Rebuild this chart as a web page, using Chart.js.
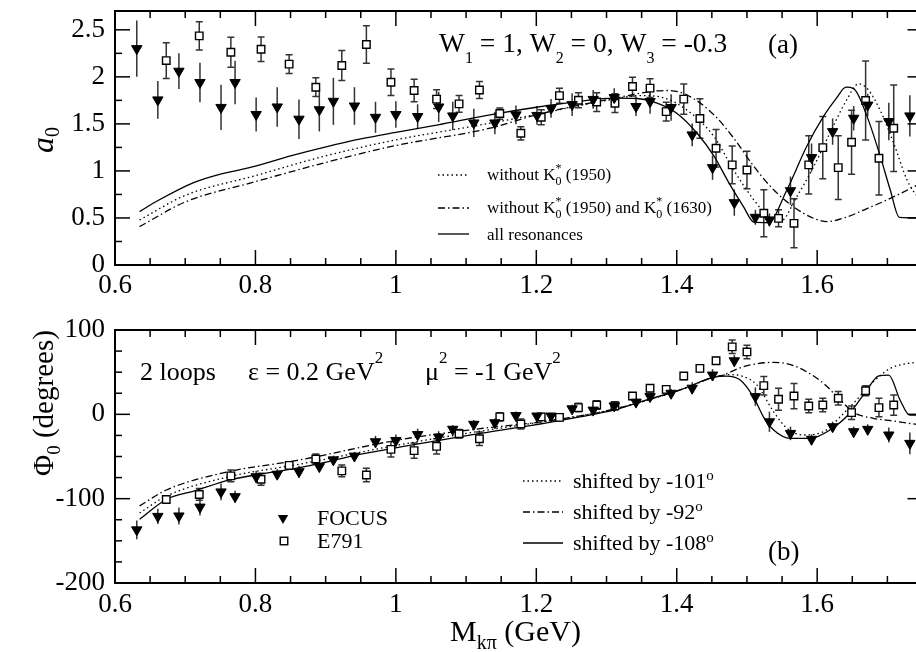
<!DOCTYPE html>
<html><head><meta charset="utf-8">
<script src="https://cdn.jsdelivr.net/npm/chart.js@4.4.1/dist/chart.umd.min.js"></script>
<style>
html,body{margin:0;padding:0;overflow:hidden;background:#fff;width:916px;height:652px}
#wrap{position:relative;width:916px;height:652px;overflow:hidden;background:#fff}
canvas{position:absolute;left:0}
</style></head>
<body><div id="wrap">
<canvas id="cTop" width="940" height="305" style="top:0;width:940px;height:305px"></canvas>
<canvas id="cBot" width="940" height="347" style="top:305px;width:940px;height:347px"></canvas>
</div>
<script>
// ---------- tick labels ----------
const X_TICKS = [0.6, 0.8, 1.0, 1.2, 1.4, 1.6];
const A0_TICKS = [0, 0.5, 1, 1.5, 2, 2.5];
const PHI_TICKS = [-200, -100, 0, 100];

// ---------- data: bin centres ----------
const FOCUS_X = [0.631,0.661,0.691,0.721,0.751,0.771,0.801,0.831,0.862,0.891,
                 0.911,0.941,0.971,1.000,1.031,1.061,1.081,1.111,1.141,1.171,
                 1.201,1.221,1.251,1.281,1.311,1.342,1.362,1.392,1.422,1.451,
                 1.482,1.512,1.532,1.562,1.592,1.622,1.652,1.672,1.702,1.732];
const E791_X = [0.673,0.720,0.765,0.808,0.848,0.886,0.923,0.958,0.993,1.026,
                1.058,1.090,1.119,1.148,1.178,1.207,1.233,1.260,1.286,1.312,
                1.337,1.362,1.385,1.410,1.433,1.456,1.479,1.500,1.524,1.545,
                1.567,1.588,1.608,1.630,1.649,1.669,1.688,1.709];

// ---------- panel (a): a0 ----------
const A0_FOCUS = [2.30,1.755,2.06,1.94,1.675,1.94,1.60,1.68,1.55,1.65,
                  1.74,1.69,1.57,1.60,1.578,1.68,1.585,1.51,1.51,1.596,
                  1.59,1.665,1.705,1.76,1.78,1.685,1.737,1.674,1.383,1.035,
                  0.663,0.507,0.479,0.79,1.142,1.418,1.56,1.70,1.525,1.585];
const A0_FOCUS_ERR = [0.30,0.20,0.19,0.21,0.24,0.23,0.18,0.21,0.21,0.23,
                      0.25,0.20,0.165,0.14,0.13,0.16,0.15,0.15,0.12,0.10,
                      0.10,0.10,0.12,0.10,0.10,0.10,0.13,0.14,0.12,0.13,
                      0.14,0.08,0.07,0.15,0.15,0.14,0.13,0.12,0.20,0.22];
const A0_E791 = [2.173,2.436,2.262,2.294,2.135,1.89,2.12,2.344,1.943,1.855,
                 1.763,1.713,1.86,1.61,1.40,1.571,1.80,1.752,1.732,1.72,
                 1.897,1.88,1.63,1.763,1.557,1.241,1.064,1.01,0.55,0.496,
                 0.443,1.064,1.248,1.035,1.305,1.748,1.135,1.454];
const A0_E791_ERR = [0.19,0.15,0.16,0.13,0.10,0.10,0.16,0.20,0.14,0.12,
                     0.10,0.09,0.09,0.06,0.07,0.08,0.08,0.08,0.10,0.10,
                     0.10,0.10,0.10,0.16,0.21,0.20,0.20,0.20,0.25,0.09,
                     0.26,0.31,0.33,0.34,0.34,0.42,0.39,0.46];

const A0_ALL_X = [0.635,0.66,0.712,0.75,0.8,0.85,0.902,0.95,1.0,1.06,1.134,1.2,1.262,1.31,1.343,1.372,1.4,1.429,1.453,1.476,1.495,1.51,1.53,1.557,1.585,1.609,1.628,1.641,1.652,1.671,1.69,1.704,1.717,1.75];
const A0_ALL_Y = [0.567,0.68,0.876,0.965,1.05,1.16,1.259,1.34,1.41,1.49,1.596,1.677,1.74,1.773,1.77,1.72,1.613,1.40,1.157,0.851,0.62,0.455,0.45,0.80,1.26,1.58,1.78,1.89,1.875,1.58,1.152,0.80,0.507,0.50];
const A0_NO1950_X = [0.635,0.7,0.8,0.9,1.0,1.134,1.2,1.3,1.35,1.38,1.414,1.453,1.481,1.51,1.533,1.547,1.571,1.595,1.618,1.642,1.659,1.673,1.69,1.709,1.728,1.75];
const A0_NO1950_Y = [0.479,0.74,0.95,1.16,1.33,1.507,1.60,1.75,1.80,1.78,1.65,1.365,1.01,0.69,0.50,0.46,0.727,1.046,1.40,1.755,1.926,1.86,1.64,1.294,0.904,0.65];
const A0_NO1950_1630_X = [0.635,0.7,0.8,0.9,1.0,1.134,1.2,1.3,1.386,1.414,1.453,1.481,1.51,1.538,1.566,1.595,1.614,1.642,1.671,1.699,1.732,1.75];
const A0_NO1950_1630_Y = [0.408,0.67,0.886,1.09,1.27,1.454,1.596,1.755,1.855,1.81,1.596,1.35,1.046,0.80,0.62,0.496,0.461,0.51,0.60,0.69,0.81,0.88];

// ---------- panel (b): Phi0 ----------
const PHI_FOCUS = [-137,-121,-120.5,-110,-92,-97.6,-74,-71,-68,-62,
                   -54,-49.5,-32.5,-31,-24,-27,-17.7,-11.8,-10,-1.5,
                   -2,-2,6.5,5,10,14.5,21,25,31,46.6,
                   63.5,21,-8.8,-22.6,-29.6,-14.7,-20.6,-17.8,-24.5,-34.4];
const PHI_FOCUS_ERR = [11,9,10,10,10,7,7,6,7,6,
                       5,5,7,7,7,7,5,5,5,5,
                       4,4,5,5,5,5,5,5,7,7,
                       7,11,12,8,6,6,6,6,9,13];
const PHI_E791 = [-101,-95,-73,-77,-60.5,-53,-67,-72,-41.5,-43,
                  -38,-23,-29,-3,-11.5,-3,-3.6,8,11,10,
                  21.7,31,29.6,45.4,54.5,63.5,80,74,34,17.8,
                  21.7,9.8,11,19,2,28,8,11];
const PHI_E791_ERR = [4,7,7,7,4,6,7,8,9,9,
                      9,5,8,5,6,4,4,5,5,5,
                      4,4,4,4,4,4,8,8,11,13,
                      15,8,8,8,8,6,11,12];

const PHI_S108_X = [0.635,0.673,0.7145,0.762,0.809,0.857,0.904,0.952,1.009,1.12,1.215,1.262,1.31,1.357,1.405,1.453,1.471,1.49,1.509,1.5235,1.538,1.562,1.59,1.618,1.646,1.671,1.687,1.702,1.718,1.732,1.75];
const PHI_S108_Y = [-124.5,-101,-90.5,-78,-70.7,-64,-56,-47,-38.4,-22.6,-10,-3,5,17,29,44,45.4,41,21,-3,-18.6,-28.5,-28.5,-18.6,1,29,45.4,46.6,17,-1,-1];
const PHI_S101_X = [0.635,0.673,0.762,0.857,1.009,1.12,1.215,1.31,1.405,1.453,1.475,1.494,1.514,1.538,1.557,1.581,1.609,1.633,1.656,1.68,1.704,1.75];
const PHI_S101_Y = [-117,-97,-74,-60,-35.5,-20,-8,6,29,44,47,45,35,3,-16.6,-24.5,-20.6,-2.9,17,38.6,54.4,63];
const PHI_S92_X = [0.635,0.673,0.762,0.857,1.009,1.12,1.215,1.31,1.405,1.453,1.4665,1.49,1.514,1.538,1.562,1.585,1.609,1.633,1.652,1.68,1.709,1.75];
const PHI_S92_Y = [-108.6,-89.7,-68,-55,-29.6,-17,-8,6,29,44,46.6,55,60,61.6,59,50.5,36.7,17,2.3,-4.7,-8,-13];

// ---------- helpers ----------
const SERIF = "'Liberation Serif','Times New Roman',serif";
const DOT = [1.5, 3];
const DASHDOT = [7, 3, 1.5, 3];
function pts(xs, ys){ return xs.map((x,i)=>({x:x, y:ys[i]})); }
function lineDS(label, xs, ys, dash){
  return {type:'line', label:label, data:pts(xs,ys), borderColor:'#000', borderWidth:1.3,
          borderDash:dash, pointRadius:0, fill:false, cubicInterpolationMode:'monotone', order:2};
}
function focusDS(ys, errs){
  return {type:'scatter', label:'FOCUS', data:pts(FOCUS_X,ys), errs:errs, capW:0,
          pointStyle:'triangle', pointRotation:180, pointRadius:6,
          pointBackgroundColor:'#000', pointBorderColor:'#000', pointBorderWidth:1, order:0};
}
function e791DS(ys, errs){
  return {type:'scatter', label:'E791', data:pts(E791_X,ys), errs:errs, capW:3.5,
          pointStyle:'rect', pointRadius:5.3,
          pointBackgroundColor:'#fff', pointBorderColor:'#000', pointBorderWidth:1.4, order:1};
}

const errorBars = {
  id:'errorBars',
  beforeDatasetsDraw(chart){
    const ctx = chart.ctx, ys = chart.scales.y;
    chart.data.datasets.forEach((ds,i)=>{
      if(!ds.errs) return;
      const meta = chart.getDatasetMeta(i);
      ctx.save(); ctx.strokeStyle='#333'; ctx.lineWidth=1.5;
      meta.data.forEach((el,j)=>{
        const v = ds.data[j].y, e = ds.errs[j];
        const x = el.x, y1 = ys.getPixelForValue(v+e), y2 = ys.getPixelForValue(v-e);
        ctx.beginPath(); ctx.moveTo(x,y1); ctx.lineTo(x,y2);
        if(ds.capW){
          ctx.moveTo(x-ds.capW,y1); ctx.lineTo(x+ds.capW,y1);
          ctx.moveTo(x-ds.capW,y2); ctx.lineTo(x+ds.capW,y2);
        }
        ctx.stroke();
      });
      ctx.restore();
    });
  }
};

function frameTicks(o){
  return { id:'frameTicks', afterDraw(chart){
    const ctx = chart.ctx, a = chart.chartArea, xs = chart.scales.x, ys = chart.scales.y;
    ctx.save(); ctx.strokeStyle='#000'; ctx.lineWidth=1.5;
    const seg=(x1,y1,x2,y2)=>{ctx.beginPath();ctx.moveTo(x1,y1);ctx.lineTo(x2,y2);ctx.stroke();};
    const isMaj=(v,list)=>list.some(m=>Math.abs(m-v)<1e-6);
    const nx = Math.round((o.xmax-o.xmin)/o.xminor);
    for(let k=0;k<=nx;k++){
      const v = Math.round((o.xmin + k*o.xminor)*1e6)/1e6;
      const L = isMaj(v,o.xmajor)?15:7, p = xs.getPixelForValue(v);
      seg(p,a.bottom,p,a.bottom-L); seg(p,a.top,p,a.top+L);
    }
    const ny = Math.floor((o.ymax-o.ymin)/o.yminor+1e-9);
    for(let k=0;k<=ny;k++){
      const v = Math.round((o.ymin + k*o.yminor)*1e6)/1e6;
      const maj = isMaj(v,o.ymajor), p = ys.getPixelForValue(v);
      seg(a.left,p,a.left+(maj?15:7),p);
      if(maj) seg(a.right,p,a.right-15,p);
    }
    ctx.lineWidth=2;
    ctx.strokeRect(a.left,a.top,a.right-a.left,a.bottom-a.top);
    ctx.restore();
  }};
}

function drawRich(ctx, item, offY){
  ctx.save();
  ctx.translate(item.x, item.y - offY);
  if(item.rot) ctx.rotate(item.rot);
  ctx.fillStyle='#000'; ctx.textBaseline='alphabetic'; ctx.textAlign='left';
  let cx = 0;
  for(const s of item.segs){
    ctx.font = (s.it?'italic ':'') + s.size + 'px ' + SERIF;
    ctx.fillText(s.t, cx, s.dy||0);
    if(!s.noAdv) cx += ctx.measureText(s.t).width;
  }
  ctx.restore();
}
function drawSample(ctx, x1, x2, y, dash){
  ctx.save(); ctx.strokeStyle='#000'; ctx.lineWidth=1.3; ctx.setLineDash(dash);
  ctx.beginPath(); ctx.moveTo(x1,y); ctx.lineTo(x2,y); ctx.stroke(); ctx.restore();
}

function scalesCfg(ymin, ymax, yticks, xh, ypad){
  const fmt = v => String(+Number(v).toFixed(2));
  const tk = {font:{family:SERIF,size:27}, color:'#000', maxRotation:0, autoSkip:false, callback:fmt};
  return {
    x:{type:'linear', min:0.6, max:1.75,
       afterBuildTicks:s=>{s.ticks = X_TICKS.map(v=>({value:v}));},
       afterFit:s=>{s.height = xh; s.paddingLeft = 0; s.paddingRight = 0;},
       grid:{display:false, drawTicks:false}, border:{display:false},
       ticks:Object.assign({padding:ypad}, tk)},
    y:{type:'linear', min:ymin, max:ymax,
       afterBuildTicks:s=>{s.ticks = yticks.map(v=>({value:v}));},
       afterFit:s=>{s.width = 115; s.paddingTop = 0; s.paddingBottom = 0;},
       grid:{display:false, drawTicks:false}, border:{display:false},
       ticks:Object.assign({padding:10}, tk)}
  };
}

// ---------- panel (a) ----------
const SUBK = [{t:'*', size:12, dy:-8, noAdv:true},{t:'0', size:12, dy:5}];
const textsTop = { id:'textsTop', afterDraw(chart){
  const ctx = chart.ctx;
  drawRich(ctx,{x:439,y:52,segs:[
    {t:'W',size:27.5},{t:'1',size:16,dy:11},{t:' = 1, W',size:27.5},{t:'2',size:16,dy:11},
    {t:' = 0, W',size:27.5},{t:'3',size:16,dy:11},{t:' = -0.3',size:27.5}]},0);
  drawRich(ctx,{x:768,y:53,segs:[{t:'(a)',size:27}]},0);
  drawSample(ctx,438,469,175,DOT);
  drawSample(ctx,438,469,208,DASHDOT);
  drawSample(ctx,438,469,234,[]);
  drawRich(ctx,{x:487,y:180,segs:[{t:'without K',size:17}].concat(SUBK,[{t:' (1950)',size:17}])},0);
  drawRich(ctx,{x:487,y:213,segs:[{t:'without K',size:17}].concat(SUBK,[{t:' (1950) and K',size:17}],SUBK,[{t:' (1630)',size:17}])},0);
  drawRich(ctx,{x:487,y:240,segs:[{t:'all resonances',size:17}]},0);
  drawRich(ctx,{x:53,y:153,rot:-Math.PI/2,segs:[{t:'a',size:32,it:true},{t:'0',size:20,dy:6}]},0);
}};

new Chart(document.getElementById('cTop'), {
  type:'scatter',
  data:{datasets:[
    focusDS(A0_FOCUS, A0_FOCUS_ERR),
    e791DS(A0_E791, A0_E791_ERR),
    lineDS('without K0*(1950)', A0_NO1950_X, A0_NO1950_Y, DOT),
    lineDS('without K0*(1950) and K0*(1630)', A0_NO1950_1630_X, A0_NO1950_1630_Y, DASHDOT),
    lineDS('all resonances', A0_ALL_X, A0_ALL_Y, [])
  ]},
  options:{
    responsive:false, animation:false, events:[],
    layout:{padding:{top:11, right:17.5, left:0, bottom:0}},
    plugins:{legend:{display:false}, tooltip:{enabled:false}},
    scales:scalesCfg(0, 2.7, A0_TICKS, 40, 5)
  },
  plugins:[errorBars, frameTicks({xmin:0.6,xmax:1.75,xminor:0.05,xmajor:X_TICKS,ymin:0,ymax:2.7,yminor:0.25,ymajor:A0_TICKS}), textsTop]
});

// ---------- panel (b) ----------
const OFF = 305;
const textsBot = { id:'textsBot', afterDraw(chart){
  const ctx = chart.ctx;
  drawRich(ctx,{x:140,y:380,segs:[{t:'2 loops',size:26}]},OFF);
  drawRich(ctx,{x:248,y:380,segs:[{t:'\u03B5 = 0.2 GeV',size:26},{t:'2',size:17,dy:-17}]},OFF);
  drawRich(ctx,{x:425,y:380,segs:[{t:'\u03BC',size:26},{t:'2',size:17,dy:-17},{t:' = -1 GeV',size:26},{t:'2',size:17,dy:-17}]},OFF);
  // FOCUS / E791 legend
  ctx.save();
  ctx.fillStyle='#000';
  const tx=283, ty=518-OFF, r=6;
  ctx.beginPath(); ctx.moveTo(tx-r*0.866, ty-r*0.5); ctx.lineTo(tx+r*0.866, ty-r*0.5); ctx.lineTo(tx, ty+r); ctx.closePath(); ctx.fill();
  ctx.strokeStyle='#000'; ctx.lineWidth=1.4; ctx.fillStyle='#fff';
  ctx.fillRect(284-3.75,541-OFF-3.75,7.5,7.5); ctx.strokeRect(284-3.75,541-OFF-3.75,7.5,7.5);
  ctx.restore();
  drawRich(ctx,{x:317,y:525,segs:[{t:'FOCUS',size:22}]},OFF);
  drawRich(ctx,{x:317,y:548,segs:[{t:'E791',size:22}]},OFF);
  // line legend
  drawSample(ctx,523,563,481-OFF,DOT);
  drawSample(ctx,523,563,512-OFF,DASHDOT);
  drawSample(ctx,523,563,543-OFF,[]);
  drawRich(ctx,{x:573,y:488,segs:[{t:'shifted by -101',size:22},{t:'o',size:15,dy:-8}]},OFF);
  drawRich(ctx,{x:573,y:519,segs:[{t:'shifted by -92',size:22},{t:'o',size:15,dy:-8}]},OFF);
  drawRich(ctx,{x:573,y:550,segs:[{t:'shifted by -108',size:22},{t:'o',size:15,dy:-8}]},OFF);
  drawRich(ctx,{x:768,y:560,segs:[{t:'(b)',size:27}]},OFF);
  // axis titles
  drawRich(ctx,{x:53,y:476,rot:-Math.PI/2,segs:[{t:'\u03A6',size:29},{t:'0',size:19,dy:7},{t:' (degrees)',size:29}]},OFF);
  drawRich(ctx,{x:450,y:641,segs:[{t:'M',size:30},{t:'k\u03C0',size:20,dy:8},{t:' (GeV)',size:30}]},OFF);
}};

new Chart(document.getElementById('cBot'), {
  type:'scatter',
  data:{datasets:[
    focusDS(PHI_FOCUS, PHI_FOCUS_ERR),
    e791DS(PHI_E791, PHI_E791_ERR),
    lineDS('shifted by -101', PHI_S101_X, PHI_S101_Y, DOT),
    lineDS('shifted by -92', PHI_S92_X, PHI_S92_Y, DASHDOT),
    lineDS('shifted by -108', PHI_S108_X, PHI_S108_Y, [])
  ]},
  options:{
    responsive:false, animation:false, events:[],
    layout:{padding:{top:25, right:17.5, left:0, bottom:0}},
    plugins:{legend:{display:false}, tooltip:{enabled:false}},
    scales:scalesCfg(-200, 100, PHI_TICKS, 69, 6)
  },
  plugins:[errorBars, frameTicks({xmin:0.6,xmax:1.75,xminor:0.05,xmajor:X_TICKS,ymin:-200,ymax:100,yminor:25,ymajor:PHI_TICKS}), textsBot]
});
</script>
</body></html>
